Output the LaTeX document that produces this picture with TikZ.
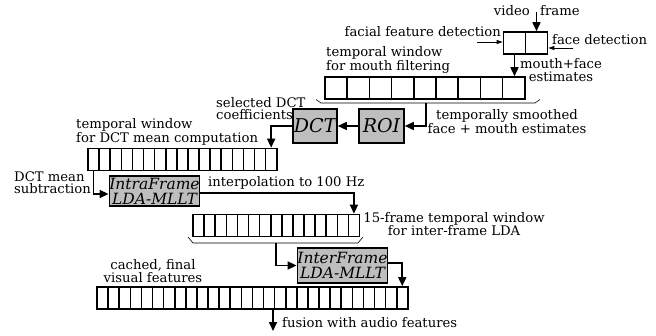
\documentclass[tikz,border=0pt]{standalone}
\usepackage{fontspec}
\setmainfont{DejaVu Serif}
\usetikzlibrary{arrows.meta}
\definecolor{procgray}{RGB}{190,190,190}

\begin{document}
\begin{tikzpicture}[x=1pt,y=-1pt,
  every node/.style={font=\fontsize{13.2}{12.2}\selectfont, inner sep=0pt},
  cell/.style={draw, line width=1.6pt, minimum width=11.1pt, minimum height=22pt},
  bigcell/.style={cell, minimum width=22.2pt},
  proc/.style={draw, line width=1.6pt, fill=procgray, align=center,
    font=\fontsize{15.5}{15}\selectfont\itshape},
  bigproc/.style={proc, font=\fontsize{19}{19}\selectfont\itshape},
  flow/.style={line width=1.6pt, -{Triangle[width=8pt,length=9pt]}},
  thinflow/.style={line width=0.8pt, -{Triangle[width=4pt,length=6pt]}},
  brace/.style={line width=0.6pt}]
  \useasboundingbox (0,0) rectangle (656,335);

  % face / feature detection
  \node[draw, line width=1.6pt, minimum size=22pt] (ffd) at (514.5,43) {};
  \node[draw, line width=1.6pt, minimum size=22pt] (fcd) at (536.5,43) {};
  \node[anchor=east] (vidlab) at (530,11) {video};
  \node[anchor=west] (frmlab) at (540,11) {frame};
  \node[anchor=east] (ffdlab) at (501,32) {facial feature detection};
  \node[anchor=west] (fcdlab) at (552,40) {face detection};
  \coordinate (vidin) at (536.5,12);
  \coordinate (ffdin) at (477,42);
  \coordinate (fcdin) at (573,48);
  \draw[flow] (vidin) -- (fcd.north);
  \draw[thinflow] (ffdin) -- (ffdin -| ffd.west);
  \draw[thinflow] (fcdin) -- (fcdin -| fcd.east);

  % mouth filtering window
  \foreach \i in {1,...,9}
    \node[bigcell] (mw\i) at ({325+22.2*(\i-0.5)},88) {};
  \node[anchor=west, align=left] (mwlab) at (326,60) {temporal window\\for mouth filtering};
  \node[align=center] (mflab) at (561,70) {mouth+face\\estimates};
  \draw[flow] (ffd.south) -- (ffd.south |- mw9.north);
  \draw[brace] (316,99.5) -- (321,103) -- (535,103) -- (540,99.5);
  \coordinate (mb) at (426,103);

  % ROI and DCT
  \node[bigproc, minimum width=45pt, minimum height=34pt] (roi) at (381.5,126) {ROI};
  \node[bigproc, minimum width=44pt, minimum height=34pt] (dct) at (315,126) {DCT};
  \node[align=center] (smlab) at (507,122) {temporally smoothed\\face + mouth estimates};
  \node[anchor=west, align=left] (sdlab) at (216,108.5) {selected DCT\\coefficients};
  \draw[flow] (mb) |- (roi.east);
  \draw[flow] (roi) -- (dct);

  % DCT mean window
  \foreach \i in {1,...,17}
    \node[cell] (dw\i) at ({88+11.1*(\i-0.5)},159.5) {};
  \node[anchor=west, align=left] (dwlab) at (76,131.5) {temporal window\\for DCT mean computation};
  \draw[flow] (dct.west) -| (dw17.north);

  % intra-frame LDA
  \node[proc, minimum width=89pt, minimum height=30pt] (intra) at (154.5,191) {IntraFrame\\LDA-MLLT};
  \node[anchor=west, align=left] (msublab) at (14,183) {DCT mean\\subtraction};
  \node[anchor=west] (iplab) at (208,183) {interpolation to 100 Hz};
  \draw[flow] (dw1.south) |- ([yshift=-3pt]intra.west);

  % 15-frame window
  \foreach \i in {1,...,15}
    \node[cell] (iw\i) at ({193+11.1*(\i-0.5)},225.5) {};
  \node[align=center] (iwlab) at (454,224) {15-frame temporal window\\for inter-frame LDA};
  \draw[flow] ([yshift=-2pt]intra.east) -| (iw15.north);
  \draw[brace] (188,237) -- (193,243) -- (358,243) -- (363,237);
  \coordinate (ib) at (276,243);

  % inter-frame LDA
  \node[proc, minimum width=89pt, minimum height=35pt] (inter) at (342.5,265.5) {InterFrame\\LDA-MLLT};
  \draw[flow] (ib) |- (inter.west);

  % final features
  \foreach \i in {1,...,28}
    \node[cell] (fw\i) at ({97+11.1*(\i-0.5)},298) {};
  \node[align=center] (fwlab) at (153,271) {cached, final\\visual features};
  \draw[flow] ([yshift=2.5pt]inter.east) -| (fw28.north);
  \coordinate (fusend) at (273,331);
  \node[anchor=west] (fuslab) at (282,323) {fusion with audio features};
  \draw[flow] (fusend |- fw16.south) -- (fusend);
\end{tikzpicture}
\end{document}
